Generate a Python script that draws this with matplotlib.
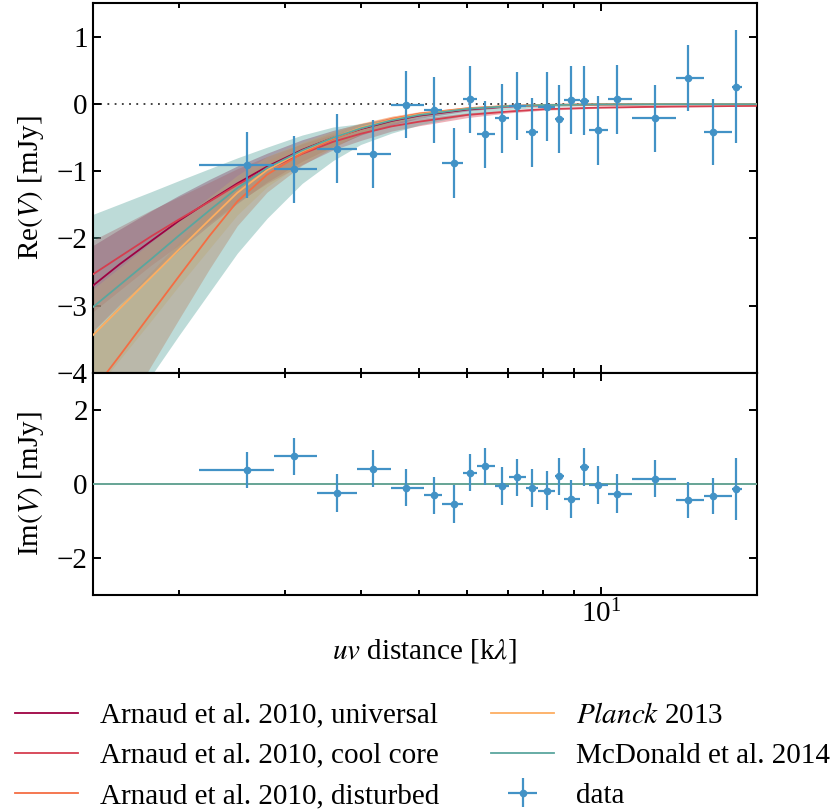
import numpy as np
import matplotlib
matplotlib.use("Agg")
import matplotlib.pyplot as plt
from matplotlib.ticker import FixedLocator, NullFormatter, LogLocator

plt.rcParams["font.family"] = "serif"
plt.rcParams["font.serif"] = ["Liberation Serif", "DejaVu Serif"]
plt.rcParams["mathtext.fontset"] = "stix"
plt.rcParams["font.size"] = 21

# binned visibilities
uv_dist = [2.59, 3.10, 3.66, 4.19, 4.75, 5.28, 5.70, 6.06, 6.42, 6.84, 7.24,
           7.68, 8.14, 8.50, 8.92, 9.36, 9.86, 10.59, 12.25, 13.89, 15.28, 16.67]
uv_bin_lo = [2.16, 2.88, 3.39, 3.95, 4.48, 5.09, 5.45, 5.91, 6.22, 6.67, 7.02,
             7.50, 7.86, 8.37, 8.66, 9.21, 9.54, 10.27, 11.24, 13.29, 14.76, 16.42]
uv_bin_hi = [2.88, 3.39, 3.95, 4.48, 5.09, 5.45, 5.91, 6.22, 6.67, 7.02, 7.50,
             7.86, 8.37, 8.66, 9.21, 9.54, 10.27, 11.24, 13.29, 14.76, 16.42, 17.08]
re_vis = [-0.90, -0.97, -0.66, -0.74, -0.01, -0.085, -0.88, 0.07, -0.45, -0.21, -0.03,
          -0.42, -0.035, -0.22, 0.06, 0.053, -0.39, 0.074, -0.21, 0.39, -0.41, 0.26]
im_vis = [0.38, 0.74, -0.25, 0.41, -0.11, -0.31, -0.54, 0.30, 0.48, -0.05, 0.18,
          -0.12, -0.18, 0.20, -0.41, 0.45, -0.03, -0.26, 0.14, -0.44, -0.33, -0.14]
vis_err = [0.49, 0.50, 0.51, 0.505, 0.50, 0.49, 0.52, 0.50, 0.50, 0.51, 0.505,
           0.515, 0.52, 0.505, 0.51, 0.51, 0.51, 0.515, 0.495, 0.485, 0.49, 0.84]

# model visibilities (Re) on a grid of uv distances
uv_model = [1.44, 1.6, 1.8, 2.0, 2.25, 2.5, 2.8, 3.2, 3.6, 4.0, 4.5, 5.0, 6.0, 7.0, 8.0, 10.0, 13.0, 18.0]

a10_univ = [-2.71, -2.38, -2.04, -1.74, -1.44, -1.18, -0.93, -0.68, -0.50, -0.37, -0.25, -0.17, -0.08, -0.035, -0.016, -0.004, 0.0, 0.0]
a10_univ_hi = [-2.11, -1.86, -1.59, -1.36, -1.12, -0.92, -0.73, -0.53, -0.39, -0.29, -0.195, -0.13, -0.062, -0.027, -0.012, -0.003, 0.0, 0.0]
a10_univ_lo = [-3.39, -2.98, -2.55, -2.18, -1.80, -1.48, -1.16, -0.85, -0.63, -0.46, -0.31, -0.21, -0.10, -0.044, -0.02, -0.005, 0.0, 0.0]

a10_cc = [-2.54, -2.27, -1.97, -1.72, -1.45, -1.20, -0.97, -0.74, -0.56, -0.44, -0.33, -0.26, -0.16, -0.11, -0.075, -0.05, -0.035, -0.025]
a10_cc_hi = [-2.03, -1.82, -1.58, -1.38, -1.16, -0.96, -0.78, -0.59, -0.45, -0.35, -0.26, -0.21, -0.13, -0.09, -0.06, -0.04, -0.028, -0.02]
a10_cc_lo = [-3.10, -2.77, -2.40, -2.10, -1.77, -1.46, -1.18, -0.90, -0.68, -0.54, -0.40, -0.32, -0.20, -0.13, -0.09, -0.06, -0.043, -0.03]

a10_dist = [-4.28, -3.74, -3.12, -2.57, -1.96, -1.45, -1.05, -0.73, -0.52, -0.36, -0.22, -0.14, -0.06, -0.025, -0.01, -0.002, 0.0, 0.0]
a10_dist_hi = [-3.42, -2.99, -2.50, -2.06, -1.57, -1.16, -0.84, -0.58, -0.42, -0.29, -0.18, -0.11, -0.05, -0.02, -0.008, -0.002, 0.0, 0.0]
a10_dist_lo = [-5.35, -4.68, -3.90, -3.21, -2.45, -1.81, -1.31, -0.91, -0.65, -0.45, -0.275, -0.175, -0.075, -0.03, -0.012, -0.003, 0.0, 0.0]

p13 = [-3.45, -3.04, -2.58, -2.17, -1.72, -1.32, -0.98, -0.70, -0.50, -0.35, -0.23, -0.15, -0.065, -0.03, -0.013, -0.003, 0.0, 0.0]
p13_hi = [-2.76, -2.43, -2.06, -1.74, -1.38, -1.06, -0.78, -0.56, -0.40, -0.28, -0.18, -0.12, -0.052, -0.024, -0.01, -0.002, 0.0, 0.0]
p13_lo = [-4.31, -3.80, -3.23, -2.71, -2.15, -1.65, -1.23, -0.88, -0.63, -0.44, -0.29, -0.19, -0.08, -0.038, -0.016, -0.004, 0.0, 0.0]

m14 = [-3.03, -2.69, -2.31, -1.96, -1.58, -1.25, -0.95, -0.69, -0.50, -0.36, -0.24, -0.16, -0.07, -0.03, -0.013, -0.003, 0.0, 0.0]
m14_hi = [-1.645, -1.485, -1.305, -1.14, -0.96, -0.80, -0.64, -0.46, -0.34, -0.29, -0.21, -0.15, -0.08, -0.04, -0.02, -0.006, -0.001, 0.0]
m14_lo = [-5.35, -4.75, -4.05, -3.45, -2.80, -2.22, -1.70, -1.18, -0.84, -0.60, -0.43, -0.31, -0.16, -0.08, -0.045, -0.015, -0.003, 0.0]

models = [
    ("Arnaud et al. 2010, universal", a10_univ, a10_univ_lo, a10_univ_hi, "#9e0142"),
    ("Arnaud et al. 2010, cool core", a10_cc, a10_cc_lo, a10_cc_hi, "#d53e4f"),
    ("Arnaud et al. 2010, disturbed", a10_dist, a10_dist_lo, a10_dist_hi, "#f46d43"),
    (r"$\it{Planck}$ 2013", p13, p13_lo, p13_hi, "#fdae61"),
    ("McDonald et al. 2014", m14, m14_lo, m14_hi, "#5aa69e"),
]
data_col = "#4292c6"

fig = plt.figure(figsize=(8.35, 8.11), dpi=100)
ax_re = fig.add_axes([0.111, 0.5404, 0.795, 0.4553])
ax_im = fig.add_axes([0.111, 0.2663, 0.795, 0.2741], sharex=ax_re)

for ax in (ax_re, ax_im):
    ax.axhline(0, color="#333333", lw=1.3, dashes=(1, 3), zorder=1)

handles = []
for label, mid, lo, hi, col in models:
    ax_re.fill_between(uv_model, lo, hi, color=col, alpha=0.4, lw=0, zorder=2)
for label, mid, lo, hi, col in models:
    ln, = ax_re.plot(uv_model, mid, color=col, lw=1.3, zorder=3, label=label)
    ax_im.plot(uv_model, np.zeros(len(uv_model)), color=col, lw=1.3, zorder=3)
    handles.append(ln)

uv = np.array(uv_dist)
xerr = [uv - np.array(uv_bin_lo), np.array(uv_bin_hi) - uv]
eb = ax_re.errorbar(uv, re_vis, yerr=vis_err, xerr=xerr, fmt="o", ms=4.5,
                    color=data_col, elinewidth=1.6, capsize=0, zorder=4, label="data")
ax_im.errorbar(uv, im_vis, yerr=vis_err, xerr=xerr, fmt="o", ms=4.5,
               color=data_col, elinewidth=1.6, capsize=0, zorder=4)
handles.append(eb)

ax_re.set_xscale("log")
ax_re.set_xlim(1.442, 18.04)
ax_re.set_ylim(-4, 1.5)
ax_im.set_ylim(-3, 3)
ax_re.yaxis.set_major_locator(FixedLocator([-4, -3, -2, -1, 0, 1]))
ax_im.yaxis.set_major_locator(FixedLocator([-2, 0, 2]))
ax_im.xaxis.set_minor_locator(LogLocator(subs=np.arange(2, 10)))
ax_im.xaxis.set_minor_formatter(NullFormatter())

for ax in (ax_re, ax_im):
    for s in ax.spines.values():
        s.set_linewidth(1.5)
    ax.tick_params(which="both", direction="in", top=True, right=True, width=1.4)
    ax.tick_params(which="major", length=6)
    ax.tick_params(which="minor", length=3.8)
ax_re.tick_params(labelbottom=False)

ax_re.set_ylabel(r"Re$(V)$ [mJy]", labelpad=8)
ax_im.set_ylabel(r"Im$(V)$ [mJy]", labelpad=8)
ax_im.set_xlabel(r"$uv$ distance [k$\lambda$]", labelpad=6)
fig.align_ylabels([ax_re, ax_im])

fig.legend(handles, [m[0] for m in models] + ["data"], ncol=2, frameon=False,
           loc="upper left", bbox_to_anchor=(0.018, 0.134), borderpad=0, borderaxespad=0,
           handlelength=2.15, handletextpad=0.75, columnspacing=1.8, labelspacing=0.47)

fig.savefig("out.png", dpi=100)
